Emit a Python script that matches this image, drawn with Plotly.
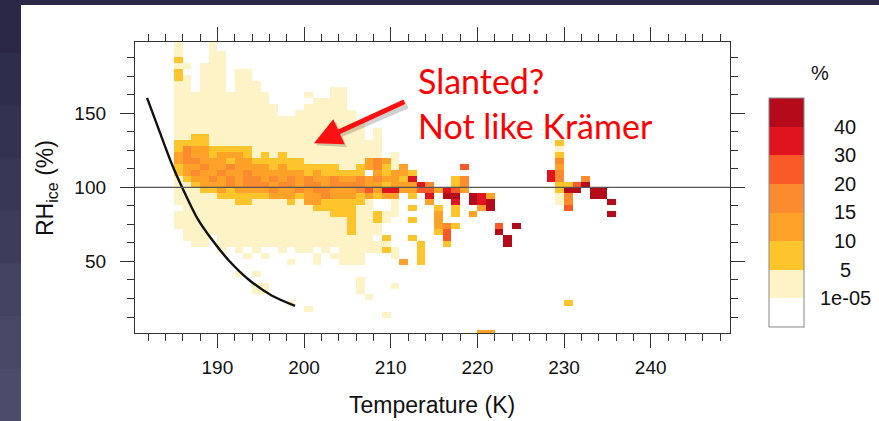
import plotly.graph_objects as go

# ---------------- data ----------------
# 1 K temperature bins (lower edges) and 4 % RH_ice bins (lower edges, top -> bottom)
temp_bins_K = list(range(185, 236))
rh_bins = list(range(196, -1, -4))

# frequency class per cell: 0 = <1e-05 (blank), 1 = 1e-05-5, 2 = 5-10, 3 = 10-15,
# 4 = 15-20, 5 = 20-30, 6 = 30-40, 7 = >40 %
level_labels = ["1e-05", "5", "10", "15", "20", "30", "40"]
level_colors = ["#FFFFFF", "#FEF3C6", "#FEC42B", "#FDA128", "#FB8B2E",
                "#F95A28", "#E0141E", "#B50A1A"]

freq_class_rows = [
    "10001 00000 00000 00000 00000 00000 00000 00000 00000 00000 0",  # 196
    "10001 00000 00000 00000 00000 00000 00000 00000 00000 00000 0",  # 192
    "10001 10000 00000 00000 00000 00000 00000 00000 00000 00000 0",  # 188
    "20001 10000 00000 00000 00000 00000 00000 00000 00000 00000 0",  # 184
    "11011 10000 00000 00000 00000 00000 00000 00000 00000 00000 0",  # 180
    "20011 10110 00000 00000 00000 00000 00000 00000 00000 00000 0",  # 176
    "21011 10110 00000 00000 00000 00000 00000 00000 00000 00000 0",  # 172
    "11011 10111 00000 00000 00000 00000 00000 00000 00000 00000 0",  # 168
    "11011 10111 00000 00011 00000 00000 00000 00000 00000 00000 0",  # 164
    "11111 11111 10000 10011 00000 00000 00000 00000 00000 00000 0",  # 160
    "11111 11111 10000 01111 00000 00000 00000 00000 00000 00000 0",  # 156
    "11111 11111 11000 11111 00000 00000 00000 00000 00000 00000 0",  # 152
    "11111 11111 11001 11111 10000 00000 00000 00000 00000 00000 0",  # 148
    "11111 11111 11111 11111 10000 00000 00000 00000 00000 00000 0",  # 144
    "11111 11111 11111 11111 11000 00000 00000 00000 00000 00000 0",  # 140
    "11111 11111 11111 11111 11010 00000 00000 00000 00000 00000 0",  # 136
    "11221 11111 11111 11111 11010 00000 00000 00000 00000 00000 0",  # 132
    "22221 11111 11111 11111 11110 00000 00000 00000 00002 00000 0",  # 128
    "24332 22221 11111 11111 11110 00000 00000 00000 00001 00000 0",  # 124
    "34332 33321 21211 11111 11110 10000 00000 00000 00002 00000 0",  # 120
    "34433 32332 22222 11111 11343 10000 00000 00000 00004 00000 0",  # 116
    "23343 34333 32322 22221 12342 13000 00050 00000 00003 00000 0",  # 112
    "23433 43343 33333 23222 22032 33200 00000 00000 00064 00000 0",  # 108
    "12334 34344 34343 43343 34343 32600 00240 00000 00064 00400 0",  # 104
    "11233 34344 43443 44344 44332 33364 00240 00000 00002 25700 0",  # 100
    "11122 32333 34334 34433 34536 63355 36530 00000 00002 77077 0",  # 96
    "11111 22222 23332 33433 32323 30206 07707 63000 00001 40077 0",  # 92
    "11111 11221 11121 33222 22100 10003 00607 67000 00001 40000 7",  # 88
    "01111 11111 11111 12222 21100 10200 20200 37000 00000 50000 0",  # 84
    "11111 11111 11111 11122 21121 10000 30203 00000 00000 00000 7",  # 80
    "11111 11111 11111 11111 21121 00200 30000 00000 00000 00000 0",  # 76
    "11111 11111 11111 11111 21110 00000 34200 00507 00000 00000 0",  # 72
    "01111 11111 11111 11111 21110 00000 25000 00700 00000 00000 0",  # 68
    "01110 11111 11111 11111 11102 00200 05000 00070 00000 00000 0",  # 64
    "00110 11111 11111 11111 11111 00020 02000 00070 00000 00000 0",  # 60
    "00000 10101 00101 10101 11112 10020 00000 00000 00000 00000 0",  # 56
    "00000 00010 10000 01011 11000 10020 00000 00000 00000 00000 0",  # 52
    "00000 00000 00010 01001 11000 03020 00000 00000 00000 00000 0",  # 48
    "00000 00000 00000 00000 00000 00000 00000 00000 00000 00000 0",  # 44
    "00000 00101 00000 00000 00000 00000 00000 00000 00000 00000 0",  # 40
    "00000 00000 00000 00000 01000 00000 00000 00000 00000 00000 0",  # 36
    "00000 00001 10000 00000 01000 10000 00000 00000 00000 00000 0",  # 32
    "00000 00001 10000 00000 01000 00000 00000 00000 00000 00000 0",  # 28
    "00000 00000 00000 00000 00100 00000 00000 00000 00000 00000 0",  # 24
    "00000 00000 00010 00000 00000 00000 00000 00000 00000 20000 0",  # 20
    "00000 00000 00000 10000 00000 00000 00000 00000 00000 00000 0",  # 16
    "00000 00000 00000 00000 00001 00000 00000 00000 00000 00000 0",  # 12
    "00000 00000 00000 00000 00000 00000 00000 00000 00000 00000 0",  # 8
    "00000 00000 00000 00000 00000 00000 00000 00000 00000 00000 0",  # 4
    "00000 00000 00000 00000 00000 00000 00000 33000 00000 00000 0",  # 0
]

# threshold curve
curve_T = [181.89, 183.39, 184.78, 186.17, 187.66, 189.39, 191.46, 193.77, 196.31, 198.96]
curve_RH = [160.3, 136.7, 115.2, 97.0, 79.4, 64.6, 49.8, 37.0, 26.9, 20.1]

x_ticks = [190, 200, 210, 220, 230, 240]
y_ticks = [50, 100, 150]

# ---------------- geometry helpers (pixels -> paper) ----------------
W, H = 879, 421
L, R, T, B = 135, 730, 42, 333
def px(x):
    return (x - L) / (R - L)
def py(y):
    return (B - y) / (B - T)

FONT = "Liberation Sans, Arial, sans-serif"

z = []
for row in freq_class_rows:
    s = row.replace(" ", "")
    z.append([None if c == "0" else int(c) for c in s])
xc = [t + 0.5 for t in temp_bins_K]
yc = [r + 2 for r in rh_bins]

n = len(level_colors)
cscale = []
for i, c in enumerate(level_colors):
    cscale.append([i / n, c])
    cscale.append([(i + 1) / n, c])

fig = go.Figure()

# colorbar box geometry
cb_top, cb_bot, cb_left, cb_right = 98, 327, 769, 804
fig.add_trace(go.Heatmap(
    x=xc, y=yc, z=z, zmin=-0.5, zmax=n - 0.5, colorscale=cscale,
    xgap=0, ygap=0, hoverinfo="skip",
    colorbar=dict(
        x=px(cb_left), xanchor="left", xref="paper",
        y=py((cb_top + cb_bot) / 2), yanchor="middle",
        lenmode="pixels", len=cb_bot - cb_top, thickness=cb_right - cb_left,
        thicknessmode="pixels", xpad=0, ypad=0,
        outlinewidth=1, outlinecolor="#888888",
        showticklabels=False, ticks="",
    ),
))

fig.add_trace(go.Scatter(
    x=curve_T, y=curve_RH, mode="lines",
    line=dict(color="#111111", width=2.4, shape="spline", smoothing=0.8),
    hoverinfo="skip", showlegend=False,
))

fig.add_hline(y=100, line=dict(color="#555555", width=1.2))

shapes = []
# slide background: dark strips left and top, white panel
bands = ["#2a2846", "#2e2d4b", "#333250", "#383756", "#3d3c5b", "#424261", "#474766", "#4b4b6b"]
nb = len(bands)
for i, c in enumerate(bands):
    y0 = i * H / nb
    y1 = (i + 1) * H / nb + 1
    shapes.append(dict(type="rect", xref="paper", yref="paper", layer="below",
                       x0=px(0), x1=px(22), y0=py(y1), y1=py(y0),
                       fillcolor=c, line=dict(width=0)))
shapes.append(dict(type="rect", xref="paper", yref="paper", layer="below",
                   x0=px(0), x1=px(W), y0=py(5), y1=py(0),
                   fillcolor="#2a2846", line=dict(width=0)))
shapes.append(dict(type="rect", xref="paper", yref="paper", layer="below",
                   x0=px(21), x1=px(W + 2), y0=py(H + 2), y1=py(5),
                   fillcolor="#FFFFFF", line=dict(width=0)))
# separators inside colour bar
step = (cb_bot - cb_top) / n
for k in range(1, n):
    yy = cb_bot - k * step
    shapes.append(dict(type="line", xref="paper", yref="paper",
                       x0=px(cb_left), x1=px(cb_right), y0=py(yy), y1=py(yy),
                       line=dict(color="#333333", width=0.8)))

annotations = []
for k, lab in enumerate(level_labels, start=1):
    yy = cb_bot - k * step
    annotations.append(dict(x=px(845), y=py(yy), xref="paper", yref="paper",
                            text=lab, showarrow=False, xanchor="center", yanchor="middle",
                            font=dict(family=FONT, size=20, color="#111111")))
annotations.append(dict(x=px(820), y=py(73), xref="paper", yref="paper", text="%",
                        showarrow=False, xanchor="center", yanchor="middle",
                        font=dict(family=FONT, size=20, color="#111111")))
# axis titles
annotations.append(dict(x=px(432), y=py(405), xref="paper", yref="paper",
                        text="Temperature (K)", showarrow=False,
                        xanchor="center", yanchor="middle",
                        font=dict(family=FONT, size=23, color="#111111")))
annotations.append(dict(x=px(46), y=py(188), xref="paper", yref="paper",
                        text="RH<sub>ice</sub> (%)", showarrow=False, textangle=-90,
                        xanchor="center", yanchor="middle",
                        font=dict(family=FONT, size=23, color="#111111")))
# red comment + arrow
annotations.append(dict(x=px(416), y=py(80), xref="paper", yref="paper",
                        text="Slanted?", showarrow=False, xanchor="left", yanchor="middle",
                        font=dict(family="Lato, sans-serif", size=34, color="#FF0000")))
annotations.append(dict(x=px(416), y=py(126), xref="paper", yref="paper",
                        text="Not like Krämer", showarrow=False, xanchor="left", yanchor="middle",
                        font=dict(family="Lato, sans-serif", size=34, color="#FF0000")))
annotations.append(dict(x=201.4, y=128.3, xref="x", yref="y", text="",
                        showarrow=True, ax=93, ay=-40, axref="pixel", ayref="pixel",
                        arrowcolor="rgba(0,0,0,0.18)", arrowwidth=5, arrowhead=2, arrowsize=1.1))
annotations.append(dict(x=201.15, y=129.8, xref="x", yref="y", text="",
                        showarrow=True, ax=92, ay=-42, axref="pixel", ayref="pixel",
                        arrowcolor="#FF1010", arrowwidth=5, arrowhead=2, arrowsize=1.1))

axis_common = dict(
    showline=True, linecolor="#333333", linewidth=1.3, mirror="ticks",
    ticks="outside", ticklen=14, tickwidth=1.3, tickcolor="#333333",
    showgrid=False, zeroline=False,
    tickfont=dict(family=FONT, size=19, color="#111111"),
)

fig.update_layout(
    width=W, height=H,
    margin=dict(l=L, r=W - R, t=T, b=H - B, autoexpand=False),
    paper_bgcolor="#2a2846", plot_bgcolor="#FFFFFF",
    showlegend=False,
    xaxis=dict(range=[180.5, 249.15], tickmode="array", tickvals=x_ticks,
               ticklabelstandoff=3,
               minor=dict(tick0=182, dtick=2, ticks="outside", ticklen=7,
                          tickwidth=1.1, tickcolor="#333333", showgrid=False),
               **axis_common),
    yaxis=dict(range=[1.75, 198], tickmode="array", tickvals=y_ticks,
               ticklabelstandoff=10,
               minor=dict(tick0=0, dtick=12.5, ticks="outside", ticklen=7,
                          tickwidth=1.1, tickcolor="#333333", showgrid=False),
               **axis_common),
    shapes=shapes,
    annotations=annotations,
)

fig.write_html("out.html")
